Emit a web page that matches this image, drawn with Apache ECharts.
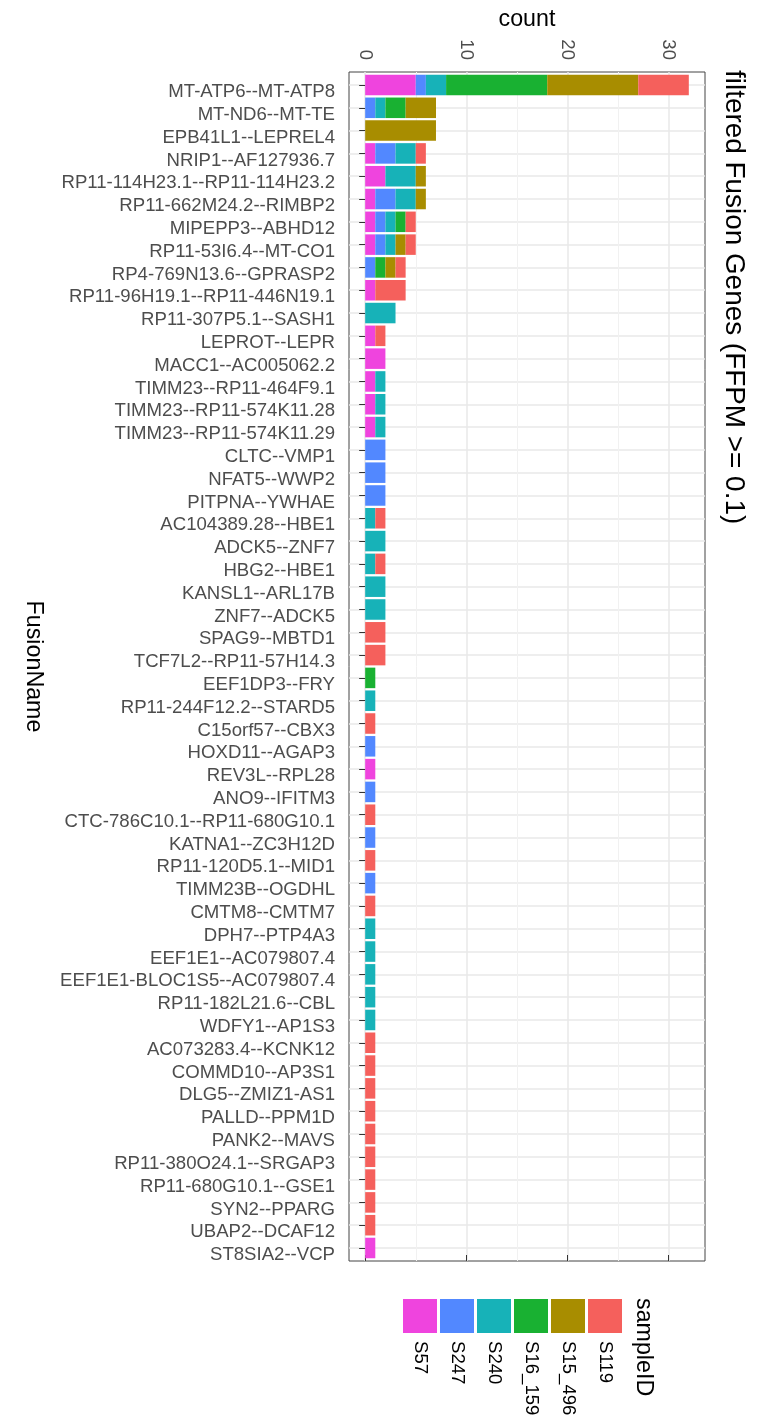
<!DOCTYPE html>
<html>
<head>
<meta charset="utf-8">
<title>filtered Fusion Genes</title>
<script src="https://cdn.jsdelivr.net/npm/echarts@6/dist/echarts.min.js"></script>
<style>
  html, body { margin: 0; padding: 0; background: #fff; }
  #main { width: 770px; height: 1418px; }
</style>
</head>
<body>
<div id="main"></div>
<script>
// categories, top to bottom
const fusionNames = [
  'MT-ATP6--MT-ATP8', 'MT-ND6--MT-TE', 'EPB41L1--LEPREL4', 'NRIP1--AF127936.7',
  'RP11-114H23.1--RP11-114H23.2', 'RP11-662M24.2--RIMBP2', 'MIPEPP3--ABHD12',
  'RP11-53I6.4--MT-CO1', 'RP4-769N13.6--GPRASP2', 'RP11-96H19.1--RP11-446N19.1',
  'RP11-307P5.1--SASH1', 'LEPROT--LEPR', 'MACC1--AC005062.2', 'TIMM23--RP11-464F9.1',
  'TIMM23--RP11-574K11.28', 'TIMM23--RP11-574K11.29', 'CLTC--VMP1', 'NFAT5--WWP2',
  'PITPNA--YWHAE', 'AC104389.28--HBE1', 'ADCK5--ZNF7', 'HBG2--HBE1', 'KANSL1--ARL17B',
  'ZNF7--ADCK5', 'SPAG9--MBTD1', 'TCF7L2--RP11-57H14.3', 'EEF1DP3--FRY',
  'RP11-244F12.2--STARD5', 'C15orf57--CBX3', 'HOXD11--AGAP3', 'REV3L--RPL28',
  'ANO9--IFITM3', 'CTC-786C10.1--RP11-680G10.1', 'KATNA1--ZC3H12D', 'RP11-120D5.1--MID1',
  'TIMM23B--OGDHL', 'CMTM8--CMTM7', 'DPH7--PTP4A3', 'EEF1E1--AC079807.4',
  'EEF1E1-BLOC1S5--AC079807.4', 'RP11-182L21.6--CBL', 'WDFY1--AP1S3', 'AC073283.4--KCNK12',
  'COMMD10--AP3S1', 'DLG5--ZMIZ1-AS1', 'PALLD--PPM1D', 'PANK2--MAVS', 'RP11-380O24.1--SRGAP3',
  'RP11-680G10.1--GSE1', 'SYN2--PPARG', 'UBAP2--DCAF12', 'ST8SIA2--VCP'
];

// counts per sample, same order as fusionNames
const S57 = [5,0,0,1,2,1,1,1,0,1, 0,1,2,1,1,1,0,0,0,0, 0,0,0,0,0,0,0,0,0,0, 1,0,0,0,0,0,0,0,0,0, 0,0,0,0,0,0,0,0,0,0, 0,1];
const S247 = [1,1,0,2,0,2,1,1,1,0, 0,0,0,0,0,0,2,2,2,0, 0,0,0,0,0,0,0,0,0,1, 0,1,0,1,0,1,0,0,0,0, 0,0,0,0,0,0,0,0,0,0, 0,0];
const S240 = [2,1,0,2,3,2,1,1,0,0, 3,0,0,1,1,1,0,0,0,1, 2,1,2,2,0,0,0,1,0,0, 0,0,0,0,0,0,0,1,1,1, 1,1,0,0,0,0,0,0,0,0, 0,0];
const S16_159 = [10,2,0,0,0,0,1,0,1,0, 0,0,0,0,0,0,0,0,0,0, 0,0,0,0,0,0,1,0,0,0, 0,0,0,0,0,0,0,0,0,0, 0,0,0,0,0,0,0,0,0,0, 0,0];
const S15_496 = [9,3,7,0,1,1,0,1,1,0, 0,0,0,0,0,0,0,0,0,0, 0,0,0,0,0,0,0,0,0,0, 0,0,0,0,0,0,0,0,0,0, 0,0,0,0,0,0,0,0,0,0, 0,0];
const S119 = [5,0,0,1,0,0,1,1,1,3, 0,1,0,0,0,0,0,0,0,1, 0,1,0,0,2,2,0,0,1,0, 0,0,1,0,1,0,1,0,0,0, 0,0,1,1,1,1,1,1,1,1, 1,0];

const sampleIDs = ['S57', 'S247', 'S240', 'S16_159', 'S15_496', 'S119'];
const sampleCounts = [S57, S247, S240, S16_159, S15_496, S119];

const countTicks = [0, 10, 20, 30];
const minorTicks = [5, 15, 25];

const sampleColors = ['#EF44DE', '#5288FF', '#17B2B8', '#19B132', '#A88D00', '#F5605C'];
const FONT = '"Liberation Sans", Arial, Helvetica, sans-serif';

// panel = grid 0 (border, x axis); bars = grid 1 (category centres inset like ggplot)
const panel = { left: 349, top: 72, width: 356, height: 1189 };
const xMin = -1.6, xMax = 33.6;

const chart = echarts.init(document.getElementById('main'));

const series = sampleIDs.map((id, i) => ({
  name: id,
  type: 'bar',
  stack: 'total',
  xAxisIndex: 2,
  yAxisIndex: 1,
  barWidth: '90%',
  clip: false,
  itemStyle: { color: sampleColors[i] },
  data: sampleCounts[i]
}));

// legend drawn by hand, since its labels are rotated
const legendGraphics = [];
sampleIDs.forEach((id, i) => {
  const x = 403 + i * 37;
  legendGraphics.push({
    type: 'rect',
    shape: { x: x, y: 1299, width: 34, height: 34 },
    style: { fill: sampleColors[i] }
  });
  legendGraphics.push({
    type: 'text',
    x: x + 17, y: 1341,
    rotation: -Math.PI / 2,
    style: { text: id, font: '18.6px ' + FONT, fill: '#000', align: 'left', verticalAlign: 'middle' }
  });
});
legendGraphics.push({
  type: 'text',
  x: 643, y: 1298,
  rotation: -Math.PI / 2,
  style: { text: 'sampleID', font: '23.25px ' + FONT, fill: '#000', align: 'left', verticalAlign: 'middle' }
});
legendGraphics.push({
  type: 'text',
  x: 734, y: 70,
  rotation: -Math.PI / 2,
  style: { text: 'filtered Fusion Genes (FFPM >= 0.1)', font: '27.9px ' + FONT, fill: '#000', align: 'left', verticalAlign: 'middle' }
});

chart.setOption({
  animation: false,
  backgroundColor: '#fff',
  textStyle: { fontFamily: FONT },
  grid: [
    { left: panel.left, top: panel.top, width: panel.width, height: panel.height,
      show: true, borderColor: '#444', borderWidth: 1, outerBoundsMode: 'none' },
    { left: panel.left, top: 85, width: panel.width, height: 1163, outerBoundsMode: 'none' }
  ],
  xAxis: [
    {
      gridIndex: 0, type: 'value', position: 'top', min: xMin, max: xMax,
      name: 'count', nameLocation: 'middle', nameGap: 39,
      nameTextStyle: { fontSize: 23.25, color: '#000', fontFamily: FONT },
      axisLine: { show: false },
      axisTick: { show: true, length: 6, customValues: countTicks, lineStyle: { color: '#333', width: 1 } },
      axisLabel: { customValues: countTicks, rotate: -90, margin: 12, fontSize: 18.6, color: '#4D4D4D' },
      splitLine: { show: true, lineStyle: { color: '#E8E8E8', width: 1.5 } }
    },
    {
      gridIndex: 0, type: 'value', position: 'top', min: xMin, max: xMax,
      axisLine: { show: false },
      axisTick: { show: false, customValues: minorTicks },
      axisLabel: { show: false, customValues: minorTicks },
      splitLine: { show: true, lineStyle: { color: '#F1F1F1', width: 1 } }
    },
    {
      gridIndex: 1, type: 'value', min: xMin, max: xMax, show: false
    }
  ],
  yAxis: [
    { gridIndex: 0, type: 'value', show: false },
    {
      gridIndex: 1, type: 'category', data: fusionNames, inverse: true, boundaryGap: false,
      name: 'FusionName', nameLocation: 'middle', nameRotate: -90, nameGap: 304,
      nameTextStyle: { fontSize: 23.25, color: '#000', fontFamily: FONT },
      axisLine: { show: false },
      axisTick: { show: true, length: 6, interval: 0, lineStyle: { color: '#333', width: 1 } },
      axisLabel: { interval: 0, margin: 14, fontSize: 18.6, color: '#4D4D4D',
        verticalAlign: 'top', lineHeight: 14 },
      splitLine: { show: true, interval: 0, lineStyle: { color: '#E8E8E8', width: 1.5 } }
    }
  ],
  series: series,
  graphic: legendGraphics
});
</script>
</body>
</html>
